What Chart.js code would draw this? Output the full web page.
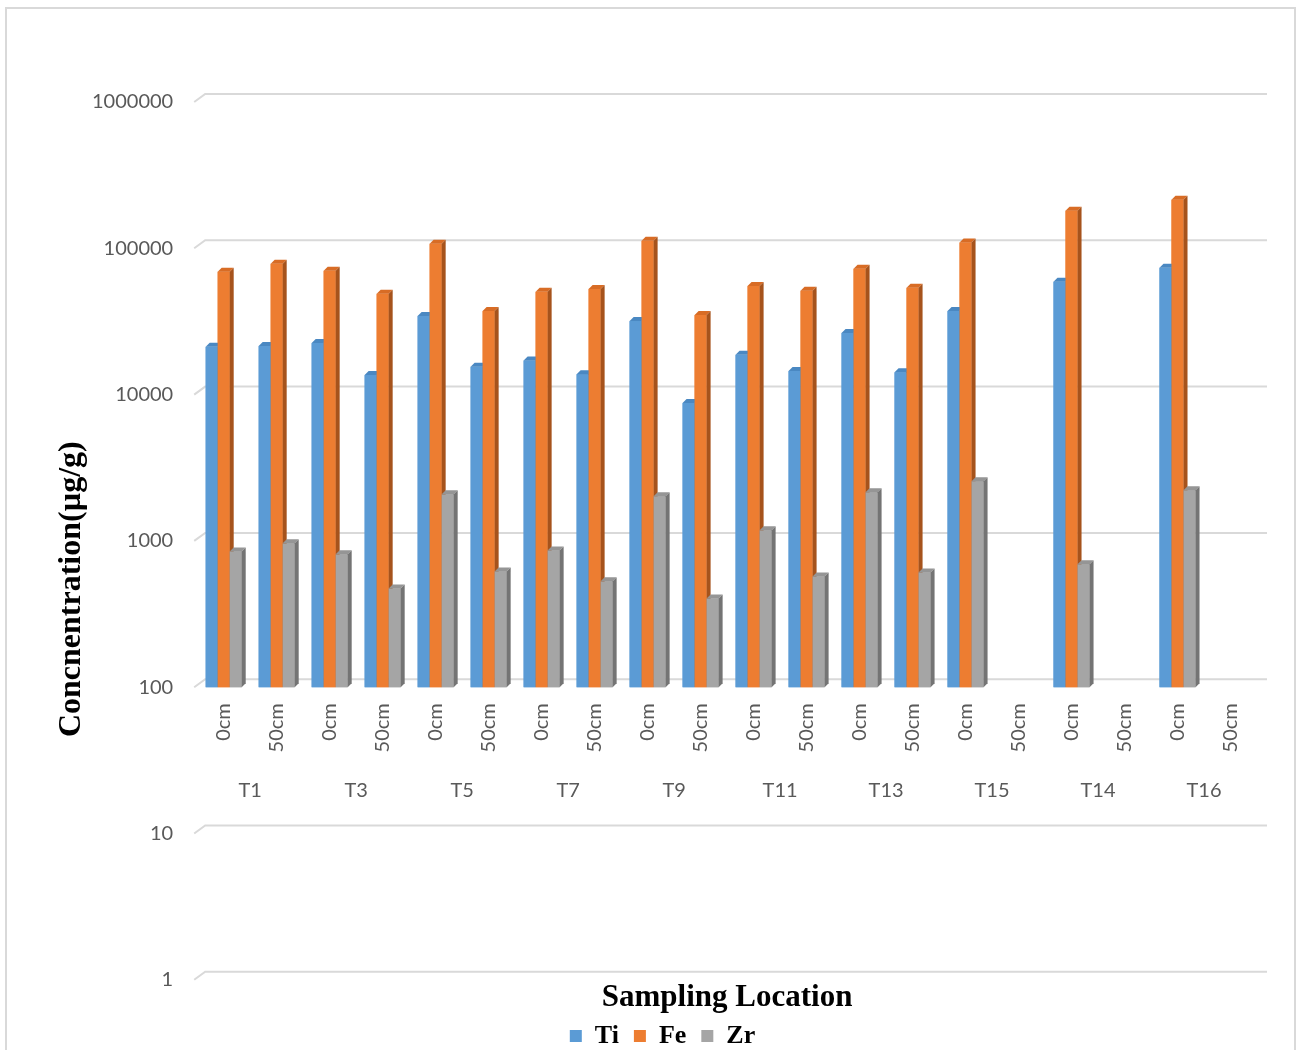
<!DOCTYPE html>
<html>
<head>
<meta charset="utf-8">
<title>Concentration by sampling location</title>
<script src="https://cdn.jsdelivr.net/npm/chart.js@4.4.0/dist/chart.umd.min.js"></script>
<style>
  html, body { margin: 0; padding: 0; background: #fff; }
  #wrap { position: relative; width: 1301px; height: 1050px; overflow: hidden; }
  #frame { position: absolute; left: 5px; top: 7px; width: 1291px; height: 1080px; border: 2px solid #d9d9d9; box-sizing: border-box; }
  canvas { position: absolute; left: 0; top: 0; }
</style>
</head>
<body>
<div id="wrap">
  <div id="frame"></div>
  <canvas id="chart" width="1301" height="1050"></canvas>
</div>
<script>
// depth below surface for each sample, and the site each pair belongs to
const depthLabels = ["0cm", "50cm", "0cm", "50cm", "0cm", "50cm", "0cm", "50cm", "0cm", "50cm",
                     "0cm", "50cm", "0cm", "50cm", "0cm", "50cm", "0cm", "50cm", "0cm", "50cm"];
const siteLabels = ["T1", "T3", "T5", "T7", "T9", "T11", "T13", "T15", "T14", "T16"];

// concentrations in µg/g (no 50cm sample for T15, T14, T16)
const tiValues = [21200, 21500, 22500, 13600, 34500, 15500, 17100, 13800, 31800, 8750,
                  18700, 14500, 26400, 14200, 37300, null, 59100, null, 73600, null];
const feValues = [69200, 78400, 70200, 48900, 107500, 37300, 50400, 52800, 112400, 35000,
                  55300, 51300, 72500, 53700, 109500, null, 180900, null, 215000, null];
const zrValues = [848, 962, 809, 473, 2080, 619, 861, 529, 2020, 404,
                  1181, 572, 2150, 609, 2560, null, 692, null, 2220, null];

const yTicks = [1, 10, 100, 1000, 10000, 100000, 1000000];
const barBase = 100;

const seriesNames = ["Ti", "Fe", "Zr"];
const yTitle = "Concnentration(µg/g)";
const xTitle = "Sampling Location";

const shades = [
    { front: "#5b9bd5", top: "#4a88c2", side: "#3d6f9e" },
    { front: "#ed7d31", top: "#d86c25", side: "#a6531c" },
    { front: "#a5a5a5", top: "#959595", side: "#747474" }
];
const depth = 4;

// back wall grid lines with the little slanted floor edge on the left
const gridPlugin = {
    id: "grid3d",
    beforeDatasetsDraw(chart) {
        const ctx = chart.ctx;
        const y = chart.scales.y;
        const area = chart.chartArea;
        ctx.save();
        ctx.strokeStyle = "#d9d9d9";
        ctx.lineWidth = 2;
        yTicks.forEach(v => {
            const py = y.getPixelForValue(v);
            ctx.beginPath();
            ctx.moveTo(area.left - 3, py);
            ctx.lineTo(area.left + 8, py - 8);
            ctx.lineTo(area.right + 10, py - 8);
            ctx.stroke();
        });
        ctx.restore();
    }
};

// redraw each bar with a top and right-hand face so it looks like the 3-D column
const bar3dPlugin = {
    id: "bar3d",
    afterDatasetsDraw(chart) {
        const ctx = chart.ctx;
        const metas = seriesNames.map((n, i) => chart.getDatasetMeta(i));
        ctx.save();
        for (let i = 0; i < depthLabels.length; i++) {
            metas.forEach((meta, d) => {
                const v = chart.data.datasets[d].data[i];
                const el = meta.data[i];
                if (v == null || !el) return;
                const { x, y, base, width } = el.getProps(["x", "y", "base", "width"], true);
                const l = x - width / 2;
                const r = x + width / 2;
                const c = shades[d];

                ctx.fillStyle = c.front;
                ctx.fillRect(l, y, width, base - y);

                ctx.fillStyle = c.top;
                ctx.beginPath();
                ctx.moveTo(l, y);
                ctx.lineTo(l + depth, y - depth);
                ctx.lineTo(r + depth, y - depth);
                ctx.lineTo(r, y);
                ctx.closePath();
                ctx.fill();

                ctx.fillStyle = c.side;
                ctx.beginPath();
                ctx.moveTo(r, y);
                ctx.lineTo(r + depth, y - depth);
                ctx.lineTo(r + depth, base - depth);
                ctx.lineTo(r, base);
                ctx.closePath();
                ctx.fill();
            });
        }
        ctx.restore();
    }
};

// site names under the depth labels, plus the y axis title
const labelPlugin = {
    id: "extraLabels",
    afterDraw(chart) {
        const ctx = chart.ctx;
        const x = chart.scales.x;
        const y = chart.scales.y;
        const py = y.getPixelForValue(barBase) + 103;
        ctx.save();
        ctx.font = "20px Lato";
        ctx.fillStyle = "#595959";
        ctx.textAlign = "center";
        ctx.textBaseline = "middle";
        siteLabels.forEach((s, i) => {
            const cx = (x.getPixelForValue(2 * i) + x.getPixelForValue(2 * i + 1)) / 2;
            ctx.fillText(s, cx, py);
        });

        ctx.translate(72, y.getPixelForValue(barBase) - 98);
        ctx.rotate(-Math.PI / 2);
        ctx.font = "bold 32px 'Liberation Serif'";
        ctx.fillStyle = "#000";
        ctx.fillText(yTitle, 0, 0);
        ctx.restore();
    }
};

const ctx = document.getElementById("chart").getContext("2d");
const valueSets = [tiValues, feValues, zrValues];

new Chart(ctx, {
    type: "bar",
    data: {
        labels: depthLabels,
        datasets: seriesNames.map((name, i) => ({
            label: name,
            data: valueSets[i],
            base: barBase,
            backgroundColor: shades[i].front,
            borderWidth: 0,
            barPercentage: 1,
            categoryPercentage: 0.68
        }))
    },
    options: {
        responsive: false,
        animation: false,
        layout: {
            padding: { left: 68, right: 44, top: 102, bottom: 0 }
        },
        scales: {
            x: {
                position: { y: barBase },
                grid: { display: false, drawTicks: false },
                border: { display: false },
                ticks: {
                    autoSkip: false,
                    minRotation: 90,
                    maxRotation: 90,
                    padding: 16,
                    color: "#595959",
                    font: { family: "Lato", size: 20 }
                }
            },
            y: {
                type: "logarithmic",
                min: 1,
                max: 1000000,
                afterBuildTicks: scale => {
                    scale.ticks = yTicks.map(v => ({ value: v }));
                },
                grid: { display: false, drawTicks: false },
                border: { display: false },
                ticks: {
                    padding: 24,
                    color: "#595959",
                    font: { family: "Lato", size: 20 },
                    callback: v => String(v)
                }
            }
        },
        plugins: {
            title: {
                display: true,
                position: "bottom",
                fullSize: false,
                weight: 500,
                text: xTitle,
                color: "#000",
                padding: { top: 0, bottom: -9 },
                font: { family: "Liberation Serif", size: 31, weight: "bold" }
            },
            legend: {
                position: "bottom",
                maxHeight: 42,
                labels: {
                    color: "#000",
                    boxWidth: 12,
                    boxHeight: 12,
                    padding: 15,
                    font: { family: "Liberation Serif", size: 26, weight: "bold" }
                }
            },
            tooltip: { enabled: false }
        }
    },
    plugins: [gridPlugin, bar3dPlugin, labelPlugin]
});
</script>
</body>
</html>
